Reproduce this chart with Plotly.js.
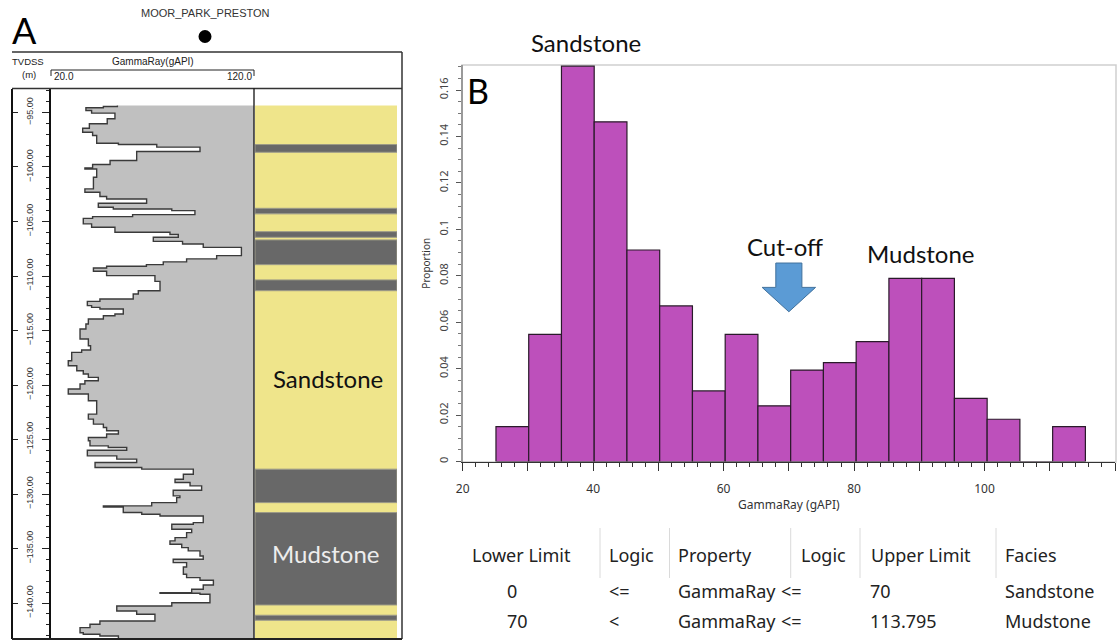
<!DOCTYPE html>
<html>
<head>
<meta charset="utf-8">
<script src="https://cdn.plot.ly/plotly-3.0.1.min.js"></script>
<style>
  html, body { margin: 0; padding: 0; background: #ffffff; }
  #chart { width: 1119px; height: 641px; }
</style>
</head>
<body>
<div id="chart"></div>
<script>
// ---- Gamma-ray log of well MOOR_PARK_PRESTON: top of each step (TVDSS, m) and reading (gAPI)
const grTop = [
  -94.36, -94.45, -94.57, -94.82, -95.06, -95.58, -96.04, -96.44, -96.81, -97.11,
  -97.82, -97.94, -98.18, -98.58, -99.41, -99.77, -100.08, -100.18, -100.94, -102.01,
  -102.32, -102.71, -102.93, -103.33, -103.70, -103.85, -104.00, -104.37, -104.55, -104.71,
  -105.22, -105.53, -105.99, -106.20, -106.45, -106.82, -107.06, -107.37, -108.13, -108.43,
  -108.70, -108.96, -109.11, -109.26, -109.57, -109.97, -110.49, -111.35, -111.65, -112.11,
  -112.33, -112.72, -112.88, -113.03, -113.49, -113.64, -113.95, -114.41, -114.86, -115.78,
  -116.40, -116.79, -117.01, -117.77, -118.23, -118.69, -118.99, -119.30, -119.61, -119.91,
  -120.37, -120.83, -121.45, -122.67, -123.13, -123.59, -123.90, -124.20, -124.50, -124.82,
  -125.12, -125.58, -125.73, -125.98, -126.50, -126.80, -127.11, -127.57, -127.72, -128.18,
  -128.64, -128.95, -129.25, -129.65, -130.17, -130.33, -130.79, -131.09, -131.20, -131.70,
  -131.85, -132.01, -132.62, -132.77, -133.23, -133.54, -134.00, -134.30, -134.61, -134.92,
  -135.22, -135.68, -135.98, -136.29, -136.69, -137.36, -137.67, -137.91, -138.34, -138.74,
  -139.05, -139.10, -139.20, -139.97, -140.27, -140.73, -141.03, -141.65, -141.95, -142.26,
  -142.72, -142.87, -143.03
];
const grValue = [
  52.7, 45.8, 37.2, 40.0, 51.5, 47.7, 38.9, 35.6, 40.5, 42.5,
  53.2, 72.1, 93.4, 62.2, 49.1, 40.5, 36.7, 42.5, 40.9, 36.7,
  44.1, 47.4, 67.1, 43.3, 50.7, 79.5, 90.9, 60.2, 40.5, 35.9,
  40.0, 51.5, 78.6, 82.7, 70.4, 84.8, 95.0, 113.8, 101.6, 86.8,
  75.3, 67.0, 47.4, 40.9, 47.4, 71.2, 73.7, 63.0, 60.5, 44.1,
  37.9, 40.0, 44.1, 55.6, 51.5, 45.8, 38.4, 37.2, 34.3, 38.4,
  39.5, 35.1, 30.2, 28.5, 32.7, 35.9, 38.4, 43.3, 36.7, 34.3,
  28.5, 38.4, 42.5, 38.4, 40.9, 45.8, 47.4, 53.2, 47.4, 38.4,
  39.2, 48.2, 57.3, 37.9, 52.4, 62.2, 41.7, 64.7, 90.1, 85.2,
  81.1, 88.5, 94.2, 80.2, 83.5, 81.9, 69.6, 45.8, 55.6, 64.7,
  73.7, 95.0, 90.1, 79.5, 89.3, 86.8, 81.1, 78.6, 84.4, 87.6,
  93.4, 95.0, 80.2, 86.8, 85.2, 86.8, 93.4, 100.0, 95.0, 89.3,
  73.7, 93.4, 98.3, 79.5, 52.4, 62.2, 71.2, 44.1, 39.2, 34.3,
  35.9, 44.1, 53.2
];
const grBase = -143.30;          // base of the logged interval
const grScaleMin = 20.0;         // track scale
const grScaleMax = 120.0;
const depthTrackTop = -92.80;

// ---- Facies column (interval tops / bases, TVDSS m)
const faciesTop  = [-94.36, -97.94, -98.65, -103.79, -104.30, -105.93, -106.45, -106.69, -108.96,
                    -110.36, -111.35, -127.72, -130.79, -131.70, -140.18, -141.12, -141.58];
const faciesBase = [-97.94, -98.65, -103.79, -104.30, -105.93, -106.45, -106.69, -108.96, -110.36,
                    -111.35, -127.72, -130.79, -131.70, -140.18, -141.12, -141.58, -143.20];
const faciesName = ['Sandstone', 'Mudstone', 'Sandstone', 'Mudstone', 'Sandstone', 'Mudstone',
                    'Sandstone', 'Mudstone', 'Sandstone', 'Mudstone', 'Sandstone', 'Mudstone',
                    'Sandstone', 'Mudstone', 'Sandstone', 'Mudstone', 'Sandstone'];

// ---- Gamma-ray histogram (proportion per bin)
const binStart = 25.1;
const binWidth = 5.02;
const binProportion = [0.0150, 0.0548, 0.1703, 0.1463, 0.0911, 0.0670, 0.0304, 0.0548, 0.0240,
                       0.0394, 0.0426, 0.0516, 0.0789, 0.0789, 0.0272, 0.0182, 0.0000, 0.0150];

// ---- Facies cut-off rules
const cutoff = 70;
const tableHeader = ['Lower Limit', 'Logic', 'Property', 'Logic', 'Upper Limit', 'Facies'];
const tableRows = [
  ['0',  '<=', 'GammaRay', '<=', '70',      'Sandstone'],
  ['70', '<',  'GammaRay', '<=', '113.795', 'Mudstone']
];

// ---------------------------------------------------------------------------
const W = 1119, H = 641;
const px = v => v / W;
const py = v => 1 - v / H;

// step curve of the log
const curveX = [], curveY = [];
for (let i = 0; i < grTop.length; i++) {
  const bottom = i + 1 < grTop.length ? grTop[i + 1] : grBase;
  curveX.push(grValue[i], grValue[i]);
  curveY.push(grTop[i], bottom);
}
const fillX = curveX.concat([grScaleMax, grScaleMax]);
const fillY = curveY.concat([grBase, grTop[0]]);

function faciesTrace(name, color, lineColor) {
  const y = [], w = [], x = [];
  faciesName.forEach((f, i) => {
    if (f !== name) return;
    y.push((faciesTop[i] + faciesBase[i]) / 2);
    w.push(faciesTop[i] - faciesBase[i]);
    x.push(1);
  });
  return {
    type: 'bar', orientation: 'h', x: x, y: y, width: w, base: 0,
    xaxis: 'x3', yaxis: 'y',
    marker: { color: color, line: { color: lineColor, width: lineColor ? 1 : 0 } },
    hoverinfo: 'skip'
  };
}

const binCenters = binProportion.map((_, i) => binStart + binWidth * (i + 0.5));

const traces = [
  { type: 'scatter', mode: 'lines', x: fillX, y: fillY, fill: 'toself', fillcolor: '#c0c0c0',
    line: { width: 0 }, xaxis: 'x', yaxis: 'y', hoverinfo: 'skip' },
  { type: 'scatter', mode: 'lines', x: curveX, y: curveY,
    line: { color: '#3a3a3a', width: 1.4 }, xaxis: 'x', yaxis: 'y', hoverinfo: 'skip' },
  { type: 'scatter', mode: 'lines', x: [], y: [], xaxis: 'x', yaxis: 'y2', hoverinfo: 'skip' },
  faciesTrace('Sandstone', '#efe58b', null),
  faciesTrace('Mudstone', '#686868', '#9c9a86'),
  { type: 'bar', x: binCenters, y: binProportion, width: binWidth,
    xaxis: 'x4', yaxis: 'y4',
    marker: { color: '#bd50bb', line: { color: '#2a1a2a', width: 1.2 } }, hoverinfo: 'skip' }
];

// helpers for decoration
function line(x0, y0, x1, y1, color, width) {
  return { type: 'line', xref: 'paper', yref: 'paper', x0: px(x0), y0: py(y0), x1: px(x1), y1: py(y1),
           line: { color: color, width: width } };
}
function text(t, x, y, size, opts) {
  return Object.assign({
    text: t, xref: 'paper', yref: 'paper', x: px(x), y: py(y), showarrow: false,
    xanchor: 'center', yanchor: 'middle',
    font: { family: 'Liberation Sans, Arial, sans-serif', size: size, color: '#222' }
  }, opts || {});
}

const shapes = [
  // log header box
  line(12, 52, 402, 52, '#333', 1.5),
  line(402, 52, 402, 639, '#333', 1.5),
  line(12, 88.5, 402, 88.5, '#333', 1.5),
  line(12, 639, 402, 639, '#222', 2),
  line(254, 88.5, 254, 639, '#111', 1.3),
  // track scale bar
  line(51, 70, 254, 70, '#222', 1),
  line(51, 70, 51, 76, '#222', 1),
  line(254, 70, 254, 76, '#222', 1),
  // well symbol
  { type: 'circle', xref: 'paper', yref: 'paper', x0: px(198.5), y0: py(30), x1: px(211.5), y1: py(43),
    fillcolor: '#000', line: { color: '#000', width: 0 } },
  // histogram frame
  { type: 'rect', xref: 'paper', yref: 'paper', x0: px(462), y0: py(462), x1: px(1116), y1: py(65),
    line: { color: '#cfcfcf', width: 1.5 }, layer: 'below' },
  // cut-off arrow
  (function () {
    const c = cutoff;
    const y0 = 0.0855, y1 = 0.075, y2 = 0.0645;   // shaft top, head start, tip
    const p = `M ${c - 2} ${y0} L ${c + 2} ${y0} L ${c + 2} ${y1} L ${c + 4.1} ${y1} L ${c} ${y2} ` +
              `L ${c - 4.1} ${y1} L ${c - 2} ${y1} Z`;
    return { type: 'path', xref: 'x4', yref: 'y4', path: p, fillcolor: '#5b9bd5',
             line: { color: '#41719c', width: 1 } };
  })()
];

// table separators
[600, 669.5, 790.7, 860, 996].forEach(x => shapes.push(line(x, 528, x, 578, '#dadada', 1)));

const calib = 'Lato, Calibri, sans-serif';
const ui = 'Noto Sans, Segoe UI, sans-serif';

const annotations = [
  text('A', 24, 30, 36, { font: { family: calib, size: 36, color: '#000' } }),
  text('MOOR_PARK_PRESTON', 205, 13, 11, { font: { family: 'Liberation Sans, Arial', size: 11, color: '#333' } }),
  text('TVDSS', 28, 61.5, 9.5),
  text('(m)', 28.5, 75, 9.5),
  text('GammaRay(gAPI)', 152.5, 61.5, 10),
  text('20.0', 52, 76.5, 10, { xanchor: 'left' }),
  text('120.0', 254, 76.5, 10, { xanchor: 'right' }),
  text('Sandstone', 328.5, 378, 24, { font: { family: calib, size: 24, color: '#111' } }),
  text('Mudstone', 326, 553, 24, { font: { family: calib, size: 24, color: '#ededed' } }),
  text('B', 478, 90, 34, { font: { family: calib, size: 34, color: '#000' } }),
  text('Sandstone', 586, 43, 24, { font: { family: calib, size: 24, color: '#111' } }),
  text('Cut-off', 785, 246, 24, { font: { family: calib, size: 24, color: '#111' } }),
  text('Mudstone', 921, 253, 24, { font: { family: calib, size: 24, color: '#111' } })
];

const headerX = [470, 606.7, 676, 799, 868.6, 1003];
const rowX = [505, 607, 676, 779, 868, 1003];
const headerY = 555;
const rowY = [591, 621];
tableHeader.forEach((h, i) => annotations.push(
  text(h, headerX[i], headerY, 18, { xanchor: 'left', font: { family: ui, size: 18, color: '#222' } })));
tableRows.forEach((r, j) => r.forEach((v, i) => annotations.push(
  text(v, rowX[i], rowY[j], 18, { xanchor: 'left', font: { family: ui, size: 18, color: '#222' } }))));

const depthRange = [grBase, depthTrackTop];

const layout = {
  width: W, height: H,
  margin: { l: 0, r: 0, t: 0, b: 0 },
  paper_bgcolor: '#ffffff', plot_bgcolor: 'rgba(0,0,0,0)',
  showlegend: false, barmode: 'overlay', hovermode: false,
  xaxis: { domain: [px(51), px(254)], range: [grScaleMin, grScaleMax], visible: false, anchor: 'y' },
  yaxis: {
    domain: [py(639), py(88.5)], range: depthRange, anchor: 'free', position: px(50), side: 'left',
    showline: true, linecolor: '#111', linewidth: 2, showgrid: false, zeroline: false,
    ticks: 'outside', ticklen: 7, tickcolor: '#222', tickwidth: 1,
    tick0: -95, dtick: 5, tickformat: '.2f', tickangle: -90, ticklabelstandoff: 5,
    tickfont: { family: 'Liberation Sans, Arial', size: 9, color: '#333' },
    minor: { ticks: 'outside', ticklen: 3, tickcolor: '#222', tick0: -95, dtick: 1 }
  },
  yaxis2: {
    overlaying: 'y', range: depthRange, anchor: 'free', position: px(12), side: 'right',
    showline: true, linecolor: '#111', linewidth: 2, showgrid: false, zeroline: false,
    ticks: 'outside', ticklen: 5, tickcolor: '#222', tick0: -95, dtick: 5, showticklabels: false
  },
  xaxis3: { domain: [px(255), px(397)], range: [0, 1], visible: false, anchor: 'y' },
  xaxis4: {
    domain: [px(462.7), px(1115)], range: [20, 120], anchor: 'y4',
    showline: true, linecolor: '#333', linewidth: 1.5, showgrid: false, zeroline: false,
    ticks: 'outside', ticklen: 8, tickcolor: '#333', tickwidth: 1,
    tickmode: 'array',
    tickvals: [20, 30, 40, 50, 60, 70, 80, 90, 100, 110, 120],
    ticktext: ['20', '', '40', '', '60', '', '80', '', '100', '', '120'],
    ticklabelstandoff: 8,
    tickfont: { family: ui, size: 12, color: '#333' },
    minor: { ticks: 'outside', ticklen: 4, tickcolor: '#333', tickmode: 'linear', tick0: 20, dtick: 2 },
    title: { text: 'GammaRay (gAPI)', font: { family: ui, size: 12, color: '#333' }, standoff: 4 }
  },
  yaxis4: {
    domain: [py(461.5), py(65)], range: [0, 0.1708], anchor: 'x4',
    showline: true, linecolor: '#9a9a9a', linewidth: 2, showgrid: false, zeroline: false,
    ticks: 'outside', ticklen: 5, tickcolor: '#555', dtick: 0.02, tickangle: -90, ticklabelstandoff: 3,
    tickfont: { family: ui, size: 11, color: '#444' },
    minor: { ticks: 'outside', ticklen: 3, tickcolor: '#777', dtick: 0.005 },
    title: { text: 'Proportion', font: { family: ui, size: 10, color: '#333' }, standoff: 4 }
  },
  shapes: shapes,
  annotations: annotations
};

Plotly.newPlot('chart', traces, layout, { staticPlot: true, displayModeBar: false });
</script>
</body>
</html>
